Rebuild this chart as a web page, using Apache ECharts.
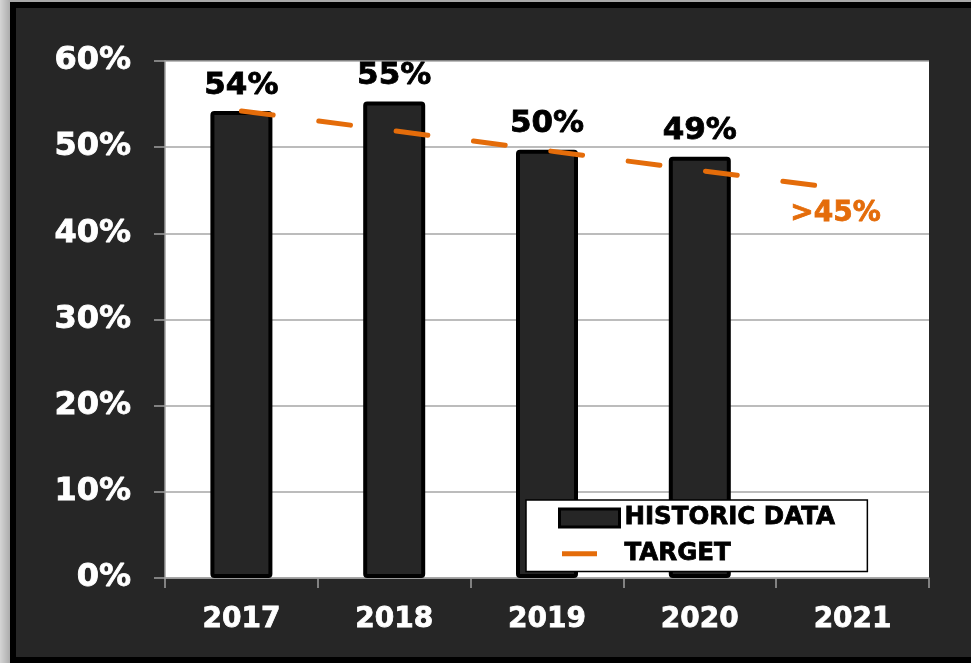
<!DOCTYPE html>
<html>
<head>
<meta charset="utf-8">
<script src="https://cdn.jsdelivr.net/npm/echarts@6/dist/echarts.min.js"></script>
<style>
html, body { margin: 0; padding: 0; }
body { width: 971px; height: 663px; overflow: hidden; position: relative;
       background: linear-gradient(to right, #d4d4d4, #a8a8a8 11px); }
#frame { position: absolute; left: 10px; top: 2px; width: 970px; height: 661px;
         border: 6px solid #000; box-sizing: border-box; background: #262626; }
#chart { width: 958px; height: 649px; }
</style>
</head>
<body>
<div id="frame"><div id="chart"></div></div>
<script>
var years = ['2017', '2018', '2019', '2020', '2021'];
var historic = [54.2, 55.3, 49.7, 48.9, null];
var target = [54.2, 51.9, 49.6, 47.3, 45.0];
var yTicks = [0, 10, 20, 30, 40, 50, 60];

var FONT = '"DejaVu Sans", sans-serif';
var ORANGE = '#E46C0A';

var chart = echarts.init(document.getElementById('chart'));

// only the last target point carries a label
var target_data = [];
for (var i = 0; i < target.length; i++) {
    if (i == target.length - 1) {
        target_data.push({
            value: target[i],
            label: {
                show: true,
                position: 'bottom',
                distance: 9,
                offset: [-17, 0],
                formatter: '>45%',
                color: ORANGE,
                textBorderColor: ORANGE,
                textBorderWidth: 0.8,
                fontFamily: FONT,
                fontWeight: 'bold',
                fontSize: 28
            }
        });
    } else {
        target_data.push(target[i]);
    }
}

var option = {
    backgroundColor: '#262626',
    animation: false,
    grid: {
        left: 149, right: 45, top: 53, bottom: 79,
        show: true, backgroundColor: '#ffffff', borderWidth: 0
    },
    legend: {
        orient: 'vertical',
        left: 510, top: 492,
        backgroundColor: '#ffffff',
        borderColor: '#000000',
        borderWidth: 1.5,
        padding: [5, 32, 5, 32],
        itemWidth: 60,
        itemHeight: 18,
        itemGap: 10,
        textStyle: { color: '#000', textBorderColor: '#000', textBorderWidth: 0.8,
                     fontFamily: FONT, fontWeight: 'bold', fontSize: 24.5, lineHeight: 24 },
        data: [
            { name: 'HISTORIC DATA', icon: 'path://M0,0 L60,0 L60,18 L0,18 Z',
              itemStyle: { color: '#262626', borderColor: '#000', borderWidth: 3 } },
            { name: 'TARGET', icon: 'path://M0,0 M60,18 M2.5,6.5 L37.5,6.5 L37.5,11.5 L2.5,11.5 Z',
              itemStyle: { color: ORANGE, borderWidth: 0 } }
        ]
    },
    xAxis: {
        type: 'category',
        data: years,
        boundaryGap: true,
        axisLine: { lineStyle: { color: '#a0a0a0', width: 1.5 } },
        axisTick: { show: true, length: 10, lineStyle: { color: '#a0a0a0', width: 1.5 } },
        axisLabel: { color: '#fff', textBorderColor: '#fff', textBorderWidth: 0.8,
                     fontFamily: FONT, fontWeight: 'bold', fontSize: 28, margin: 28 }
    },
    yAxis: {
        type: 'value',
        min: 0, max: 60, interval: 10,
        axisLine: { show: true, lineStyle: { color: '#a0a0a0', width: 1.5 } },
        axisTick: { show: true, length: 11, lineStyle: { color: '#a0a0a0', width: 1.5 } },
        splitLine: { lineStyle: { color: '#a6a6a6', width: 1.5 } },
        axisLabel: {
            color: '#fff', textBorderColor: '#fff', textBorderWidth: 0.8,
            fontFamily: FONT, fontWeight: 'bold', fontSize: 32, margin: 34,
            formatter: function (v) { return yTicks.indexOf(v) >= 0 ? v + '%' : ''; }
        }
    },
    series: [
        {
            name: 'HISTORIC DATA',
            type: 'bar',
            data: historic,
            barWidth: 62,
            itemStyle: { color: '#262626', borderColor: '#000', borderWidth: 4, borderRadius: 2 },
            label: {
                show: true,
                position: 'top',
                distance: 10,
                color: '#000',
                textBorderColor: '#000',
                textBorderWidth: 0.8,
                fontFamily: FONT,
                fontWeight: 'bold',
                fontSize: 31,
                formatter: function (p) { return Math.round(p.value) + '%'; }
            }
        },
        {
            name: 'TARGET',
            type: 'line',
            data: target_data,
            color: ORANGE,
            symbol: 'circle',
            symbolSize: 0.1,
            lineStyle: { color: ORANGE, width: 5, type: [32, 46], cap: 'round' },
            z: 5
        }
    ]
};

chart.setOption(option);
</script>
</body>
</html>
